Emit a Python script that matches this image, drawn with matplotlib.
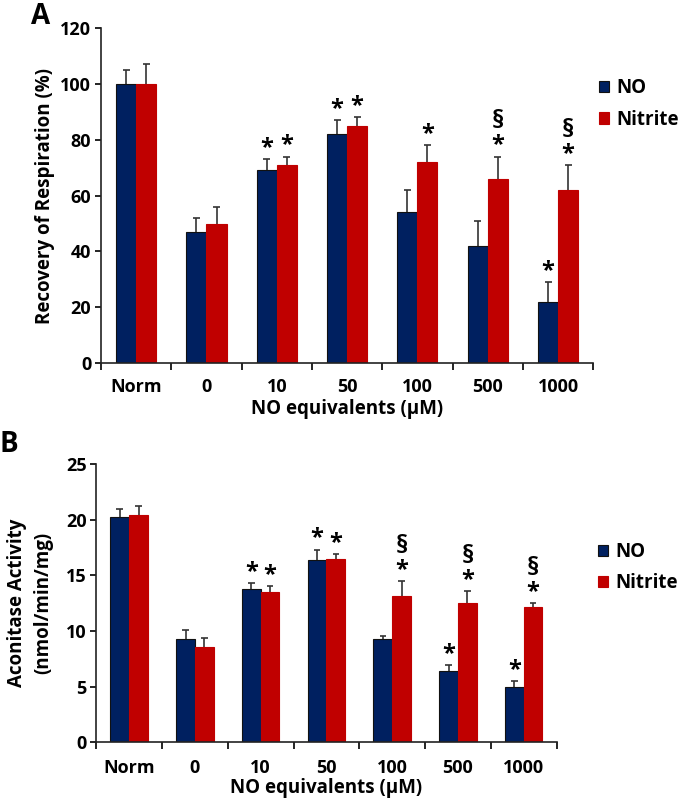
import numpy as np
from matplotlib import pyplot as plt

plt.rcParams['font.family'] = ['Open Sans', 'DejaVu Sans']
plt.rcParams['font.weight'] = 'bold'

categories = ['Norm', '0', '10', '50', '100', '500', '1000']
series = ['NO', 'Nitrite']
colors = ['#002060', '#C00000']

# panel A: recovery of respiration (%)
resp_no = [100, 47, 69, 82, 54, 42, 22]
resp_no_err = [5, 5, 4, 5, 8, 9, 7]
resp_nit = [100, 50, 71, 85, 72, 66, 62]
resp_nit_err = [7, 6, 3, 3, 6, 8, 9]
resp_marks_no = ['', '', '*', '*', '', '', '*']
resp_marks_nit = ['', '', '*', '*', '*', '*\n§', '*\n§']

# panel B: aconitase activity
acon_no = [20.2, 9.3, 13.8, 16.4, 9.25, 6.4, 5.0]
acon_no_err = [0.8, 0.8, 0.5, 0.9, 0.25, 0.5, 0.5]
acon_nit = [20.4, 8.6, 13.5, 16.5, 13.1, 12.55, 12.15]
acon_nit_err = [0.8, 0.8, 0.5, 0.4, 1.4, 1.05, 0.35]
acon_marks_no = ['', '', '*', '*', '', '*', '*']
acon_marks_nit = ['', '', '*', '*', '*\n§', '*\n§', '*\n§']


def draw_panel(ax, vals, errs, marks, ymax, ystep, ylabel, leg_anchor, xpad, ylpad):
    x = np.arange(len(categories))
    w = 0.285
    for k in range(2):
        xs = x + (k - 0.5) * w
        v = np.array(vals[k])
        e = np.array(errs[k])
        ax.bar(xs, v, w, color=colors[k], label=series[k],
               edgecolor='#111111' if k == 0 else colors[k], linewidth=0.8, zorder=2)
        ax.vlines(xs, v, v + e, color='#333333', linewidth=1.2, zorder=1)
        ax.hlines(v + e, xs - 0.05, xs + 0.05, color='#333333', linewidth=1.2, zorder=1)
        for xi, top, m in zip(xs, v + e, marks[k]):
            if not m:
                continue
            for j, s in enumerate(m.split('\n')):
                ax.annotate(s, (xi, top), xytext=(0, 8 + 17 * j), textcoords='offset points',
                            ha='center', va='center', fontsize=17 if s == '*' else 18,
                            fontweight='bold')
    ax.set_xlim(-0.5, len(categories) - 0.5)
    ax.set_ylim(0, ymax)
    ax.set_yticks(np.arange(0, ymax + 1, ystep))
    ax.set_xticks(x)
    ax.set_xticklabels(categories)
    ax.set_xticks(np.arange(-0.5, len(categories)), minor=True)
    ax.tick_params(axis='x', which='major', length=0, pad=xpad, labelsize=13)
    ax.tick_params(axis='x', which='minor', length=5, width=1.2, direction='out')
    ax.tick_params(axis='y', length=4, width=1.2, labelsize=13, pad=3)
    for s in ['top', 'right']:
        ax.spines[s].set_visible(False)
    for s in ['left', 'bottom']:
        ax.spines[s].set_linewidth(1.2)
        ax.spines[s].set_color('#222222')
    ax.set_xlabel('NO equivalents (µM)', fontsize=13.5, fontweight='bold', labelpad=2)
    ax.set_ylabel(ylabel, fontsize=13.5, fontweight='bold', labelpad=ylpad, linespacing=1.45)
    ax.legend(loc='upper left', bbox_to_anchor=leg_anchor, frameon=False, fontsize=13.5,
              handlelength=0.55, handleheight=0.55, handletextpad=0.35, labelspacing=0.6,
              borderaxespad=0, borderpad=0)


fig = plt.figure(figsize=(6.78, 8.05), dpi=100)
ax1 = fig.add_axes([0.149, 0.549, 0.726, 0.416])
ax2 = fig.add_axes([0.142, 0.078, 0.679, 0.3456])

draw_panel(ax1, [resp_no, resp_nit], [resp_no_err, resp_nit_err],
           [resp_marks_no, resp_marks_nit], 120, 20, 'Recovery of Respiration (%)',
           (1.012, 0.85), 11, 4)
draw_panel(ax2, [acon_no, acon_nit], [acon_no_err, acon_nit_err],
           [acon_marks_no, acon_marks_nit], 25, 5, 'Aconitase Activity\n(nmol/min/mg)',
           (1.09, 0.72), 12, 9)
ax2.xaxis.labelpad = 1

fig.text(0.045, 0.998, 'A', fontsize=20, fontweight='bold', va='top')
fig.text(0.0, 0.466, 'B', fontsize=20, fontweight='bold', va='top')

fig.savefig('out.png', dpi=100)
